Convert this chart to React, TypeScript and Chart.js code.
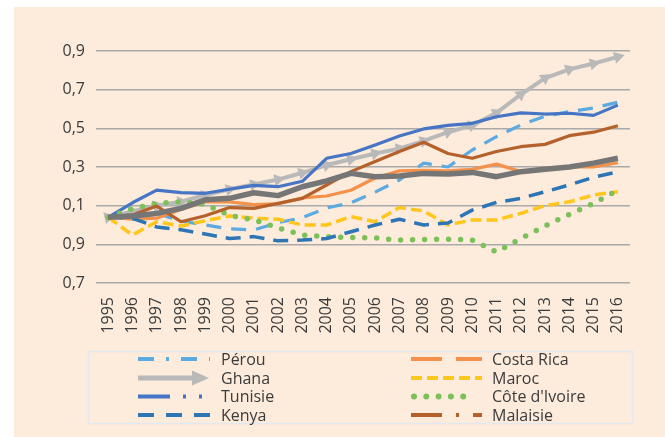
import React, { useEffect, useRef } from 'react';
import { Chart, registerables } from 'chart.js';

Chart.register(...registerables);

const years = ['1995', '1996', '1997', '1998', '1999', '2000', '2001', '2002', '2003', '2004', '2005', '2006', '2007', '2008', '2009', '2010', '2011', '2012', '2013', '2014', '2015', '2016'];
const yTickLabels = ['0,7', '0,9', '0,1', '0,3', '0,5', '0,7', '0,9'];

const perou = [1.04, 1.05, 1.06, 1.02, 1.0, 0.98, 0.975, 1.012, 1.038, 1.088, 1.115, 1.17, 1.233, 1.32, 1.3, 1.388, 1.457, 1.517, 1.563, 1.586, 1.605, 1.635];
const ghana = [1.04, 1.07, 1.1, 1.12, 1.155, 1.185, 1.21, 1.235, 1.27, 1.31, 1.34, 1.37, 1.395, 1.435, 1.48, 1.515, 1.58, 1.675, 1.76, 1.805, 1.835, 1.87];
const tunisie = [1.04, 1.115, 1.18, 1.167, 1.164, 1.185, 1.205, 1.198, 1.226, 1.345, 1.37, 1.414, 1.46, 1.497, 1.515, 1.526, 1.56, 1.58, 1.574, 1.578, 1.567, 1.62];
const kenya = [1.04, 1.035, 0.99, 0.975, 0.953, 0.93, 0.94, 0.918, 0.922, 0.93, 0.965, 1.0, 1.03, 1.0, 1.01, 1.077, 1.117, 1.138, 1.172, 1.207, 1.247, 1.275];
const costaRica = [1.04, 1.03, 1.035, 1.08, 1.12, 1.12, 1.105, 1.11, 1.14, 1.15, 1.18, 1.243, 1.28, 1.283, 1.28, 1.288, 1.315, 1.276, 1.293, 1.3, 1.3, 1.322];
const maroc = [1.04, 0.948, 1.017, 0.995, 1.022, 1.047, 1.035, 1.03, 1.0, 1.0, 1.043, 1.017, 1.09, 1.073, 1.0, 1.026, 1.026, 1.06, 1.1, 1.12, 1.155, 1.172];
const coteIvoire = [1.04, 1.085, 1.112, 1.12, 1.107, 1.05, 1.026, 0.985, 0.948, 0.94, 0.935, 0.933, 0.922, 0.925, 0.927, 0.922, 0.86, 0.93, 0.995, 1.055, 1.112, 1.18];
const malaisie = [1.04, 1.052, 1.098, 1.017, 1.048, 1.09, 1.086, 1.112, 1.138, 1.207, 1.276, 1.328, 1.38, 1.428, 1.37, 1.345, 1.38, 1.405, 1.417, 1.462, 1.48, 1.513];
const ensemble = [1.04, 1.047, 1.06, 1.086, 1.13, 1.138, 1.167, 1.152, 1.198, 1.228, 1.267, 1.25, 1.253, 1.267, 1.264, 1.272, 1.25, 1.276, 1.288, 1.3, 1.32, 1.345];

const FONT = "'Open Sans', 'Noto Sans', sans-serif";
const TEXT = '#3b3b3b';

const C_PEROU = '#5baae1';
const C_GHANA = '#b9b9b9';
const C_TUNISIE = '#4575c4';
const C_KENYA = '#2e75b6';
const C_COSTA = '#f4914a';
const C_MAROC = '#ffc61e';
const C_COTE = '#7cc05a';
const C_MALAISIE = '#b5612c';
const C_ENSEMBLE = '#767676';

type LegendEntry = {
  label: string;
  color: string;
  dash: number[];
  cap: CanvasLineCap;
  width: number;
  arrow?: boolean;
  col: number;
  row: number;
};

const legendEntries: LegendEntry[] = [
  { label: 'Pérou', color: C_PEROU, dash: [16, 12, 3, 12], cap: 'butt', width: 4, col: 0, row: 0 },
  { label: 'Ghana', color: C_GHANA, dash: [], cap: 'butt', width: 5, arrow: true, col: 0, row: 1 },
  { label: 'Tunisie', color: C_TUNISIE, dash: [32, 13, 3, 13, 3, 13], cap: 'butt', width: 4, col: 0, row: 2 },
  { label: 'Kenya', color: C_KENYA, dash: [16, 12], cap: 'butt', width: 4, col: 0, row: 3 },
  { label: 'Costa Rica', color: C_COSTA, dash: [31, 14], cap: 'butt', width: 4, col: 1, row: 0 },
  { label: 'Maroc', color: C_MAROC, dash: [11, 5], cap: 'butt', width: 4, col: 1, row: 1 },
  { label: "Côte d'Ivoire", color: C_COTE, dash: [0, 12.3], cap: 'round', width: 6, col: 1, row: 2 },
  { label: 'Malaisie', color: C_MALAISIE, dash: [31, 14, 3, 14], cap: 'butt', width: 4, col: 1, row: 3 },
];

const legendPlugin = {
  id: 'customLegend',
  afterDraw(chart: any) {
    const ctx = chart.ctx as CanvasRenderingContext2D;
    ctx.save();
    // box
    ctx.strokeStyle = '#e2e8ee';
    ctx.lineWidth = 1.5;
    ctx.setLineDash([]);
    ctx.strokeRect(74.5, 344.5, 544, 72);
    const rowsY = [352, 371, 389.5, 408];
    const sampleX = [124, 397];
    const sampleEnd = [196, 468];
    const textX = [207, 478];
    ctx.font = `16px ${FONT}`;
    ctx.textBaseline = 'middle';
    ctx.textAlign = 'left';
    for (const e of legendEntries) {
      const y = rowsY[e.row];
      const x0 = sampleX[e.col];
      ctx.strokeStyle = e.color;
      ctx.fillStyle = e.color;
      ctx.lineWidth = e.width;
      ctx.lineCap = e.cap;
      ctx.setLineDash(e.dash);
      ctx.beginPath();
      if (e.arrow) {
        ctx.moveTo(x0, y);
        ctx.lineTo(x0 + 55, y);
        ctx.stroke();
        ctx.setLineDash([]);
        ctx.beginPath();
        ctx.moveTo(x0 + 54, y - 7.5);
        ctx.lineTo(x0 + 71, y);
        ctx.lineTo(x0 + 54, y + 7.5);
        ctx.closePath();
        ctx.fill();
      } else {
        const x1 = e.cap === 'round' ? x0 + 64 : sampleEnd[e.col];
        ctx.moveTo(e.cap === 'round' ? x0 + 3 : x0, y);
        ctx.lineTo(x1, y);
        ctx.stroke();
      }
      ctx.setLineDash([]);
      ctx.fillStyle = TEXT;
      ctx.fillText(e.label, textX[e.col], y + 1);
    }
    ctx.restore();
  },
};

function ghanaRotation(c: any) {
  const chart = c.chart;
  const xs = chart.scales && chart.scales.x;
  const ys = chart.scales && chart.scales.y;
  if (!xs || !ys) return 90;
  const i = c.dataIndex;
  const j0 = i === 0 ? 0 : i - 1;
  const j1 = i === 0 ? 1 : i;
  const dx = xs.getPixelForValue(j1) - xs.getPixelForValue(j0);
  const dy = ys.getPixelForValue(ghana[j1]) - ys.getPixelForValue(ghana[j0]);
  if (!isFinite(dx) || !isFinite(dy) || dx === 0) return 90;
  return 90 + (Math.atan2(dy, dx) * 180) / Math.PI;
}

export default function App() {
  const ref = useRef<HTMLCanvasElement | null>(null);

  useEffect(() => {
    if (!ref.current) return;
    const line = (label: string, data: number[], color: string, width: number, dash: number[], order: number, extra: any = {}) => ({
      label,
      data,
      borderColor: color,
      backgroundColor: color,
      borderWidth: width,
      borderDash: dash,
      borderCapStyle: 'butt',
      borderJoinStyle: 'round',
      pointRadius: 0,
      pointHoverRadius: 0,
      tension: 0,
      fill: false,
      order,
      ...extra,
    });

    const chart = new Chart(ref.current, {
      type: 'line',
      data: {
        labels: years,
        datasets: [
          line('Ensemble', ensemble, C_ENSEMBLE, 5.5, [], 0),
          line('Malaisie', malaisie, C_MALAISIE, 3.2, [], 1),
          line('Kenya', kenya, C_KENYA, 3.5, [15, 9], 2),
          line("Côte d'Ivoire", coteIvoire, C_COTE, 5.5, [0, 12], 3, { borderCapStyle: 'round' }),
          line('Tunisie', tunisie, C_TUNISIE, 3.2, [], 4),
          line('Maroc', maroc, C_MAROC, 3.5, [11, 5], 5),
          line('Ghana', ghana, C_GHANA, 4, [], 6, {
            pointRadius: 7,
            pointStyle: 'triangle',
            pointBorderWidth: 0,
            pointBackgroundColor: C_GHANA,
            pointBorderColor: C_GHANA,
            pointRotation: ghanaRotation,
          }),
          line('Costa Rica', costaRica, C_COSTA, 3.2, [], 7),
          line('Pérou', perou, C_PEROU, 3.2, [15, 10], 8),
        ],
      },
      options: {
        responsive: false,
        animation: false,
        events: [],
        layout: { padding: { left: 0, right: 35, top: 44, bottom: 94 } },
        plugins: {
          legend: { display: false },
          tooltip: { enabled: false },
          title: { display: false },
        },
        scales: {
          x: {
            type: 'category',
            offset: true,
            grid: { display: false, drawTicks: false },
            border: { display: false },
            ticks: {
              autoSkip: false,
              maxRotation: 90,
              minRotation: 90,
              padding: 14,
              color: TEXT,
              font: { family: FONT, size: 16 },
            },
            afterFit: (s: any) => {
              s.height = 60;
            },
          },
          y: {
            min: 0.7,
            max: 1.9,
            grid: { color: '#aaaaaa', lineWidth: 1.5, drawTicks: false },
            border: { display: false },
            ticks: {
              stepSize: 0.2,
              padding: 11,
              color: TEXT,
              font: { family: FONT, size: 16 },
              callback: (_v: any, i: number) => yTickLabels[i],
            },
            afterFit: (s: any) => {
              s.width = 82;
            },
          },
        },
      },
      plugins: [legendPlugin],
    } as any);
    return () => chart.destroy();
  }, []);

  return (
    <div
      style={{
        position: 'absolute',
        left: 14,
        top: 7,
        width: 651,
        height: 430,
        background: 'rgb(253,235,219)',
      }}
    >
      <canvas ref={ref} width={651} height={430} style={{ display: 'block' }} />
    </div>
  );
}
